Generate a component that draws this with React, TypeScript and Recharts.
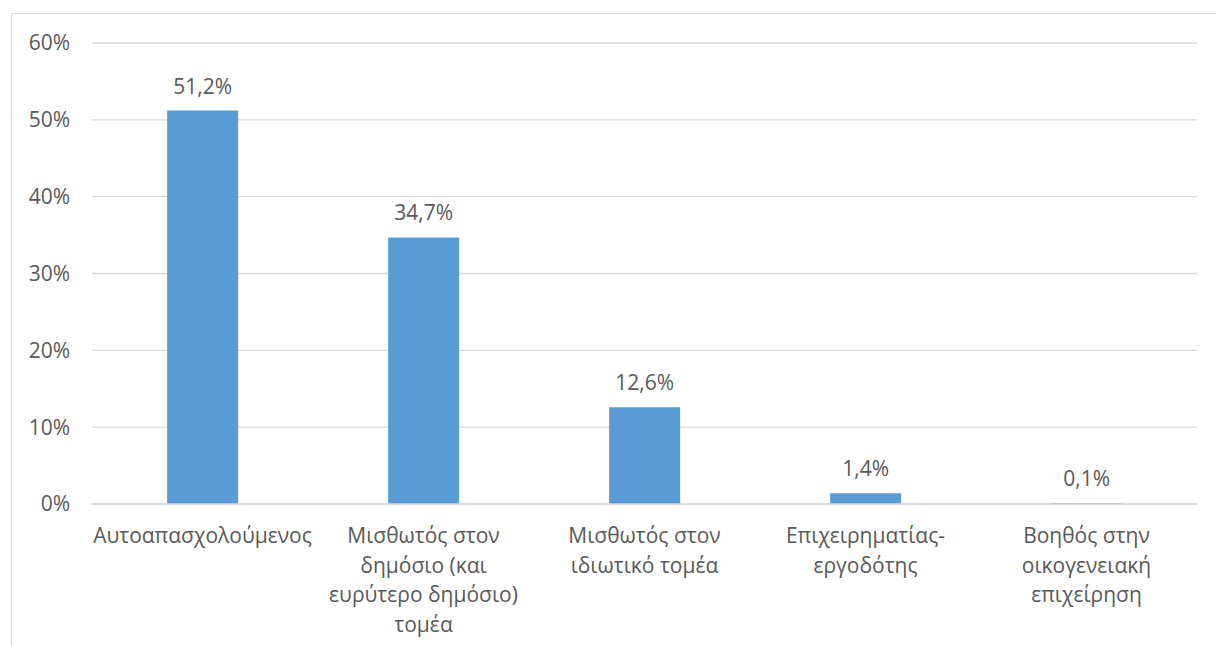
import { BarChart, Bar, XAxis, YAxis, CartesianGrid, LabelList } from 'recharts';

// categories, with manual line breaks as in the original
const categories = [
  'Αυτοαπασχολούμενος',
  'Μισθωτός στον\nδημόσιο (και\nευρύτερο δημόσιο)\nτομέα',
  'Μισθωτός στον\nιδιωτικό τομέα',
  'Επιχειρηματίας-\nεργοδότης',
  'Βοηθός στην\nοικογενειακή\nεπιχείρηση',
];
const shares = [51.2, 34.7, 12.6, 1.4, 0.1];
const yTicks = [0, 10, 20, 30, 40, 50, 60];

const data = categories.map((name, i) => ({ name, value: shares[i] }));

const FONT = '"Open Sans", sans-serif';
const TEXT = '#595959';
const SIZE = 21;

const CategoryTick = (props: any) => {
  const { x, y, payload } = props;
  const lines = String(payload.value).split('\n');
  return (
    <text x={x} y={y + 39} textAnchor="middle" fill={TEXT} fontSize={SIZE} fontFamily={FONT}>
      {lines.map((line, i) => (
        <tspan key={i} x={x} dy={i === 0 ? 0 : 29.5}>
          {line}
        </tspan>
      ))}
    </text>
  );
};

const formatPct = (v: number) => `${v.toFixed(1).replace('.', ',')}%`;

export default function App() {
  return (
    <div
      style={{
        position: 'fixed',
        left: 0,
        top: 0,
        width: 1216,
        height: 646,
        overflow: 'hidden',
        background: '#fff',
        fontFamily: FONT,
      }}
    >
      {/* chart frame, runs off the right and bottom edges */}
      <div
        style={{
          position: 'absolute',
          left: 11,
          top: 13,
          width: 1260,
          height: 700,
          border: '1px solid #d9d9d9',
        }}
      />
      <div style={{ position: 'absolute', left: 0, top: 0 }}>
        <BarChart
          width={1216}
          height={646}
          data={data}
          margin={{ top: 43, right: 19, left: 32, bottom: 0 }}
          barCategoryGap="34%"
        >
          <CartesianGrid vertical={false} stroke="#d9d9d9" strokeWidth={1.3} />
          <XAxis
            dataKey="name"
            height={142}
            axisLine={{ stroke: '#d9d9d9', strokeWidth: 1.3 }}
            tickLine={false}
            tickSize={0}
            tickMargin={0}
            interval={0}
            tick={<CategoryTick />}
          />
          <YAxis
            width={60}
            domain={[0, 60]}
            ticks={yTicks}
            axisLine={false}
            tickLine={false}
            tickSize={0}
            tickMargin={22}
            tickFormatter={(v: number) => `${v}%`}
            tick={{ fill: TEXT, fontSize: SIZE, fontFamily: FONT }}
          />
          <Bar dataKey="value" fill="#5b9bd5" isAnimationActive={false}>
            <LabelList
              dataKey="value"
              position="top"
              offset={17}
              formatter={(v: any) => formatPct(Number(v))}
              style={{ fill: TEXT, fontSize: SIZE, fontFamily: FONT }}
            />
          </Bar>
        </BarChart>
      </div>
    </div>
  );
}
